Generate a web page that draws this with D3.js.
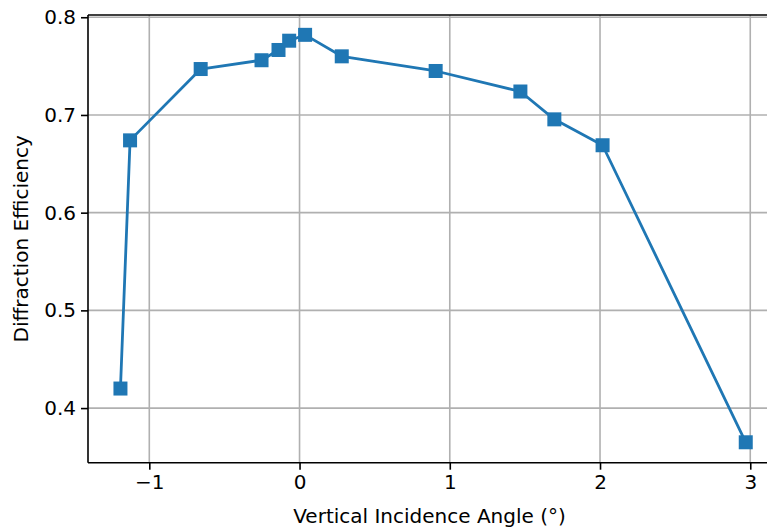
<!DOCTYPE html>
<html>
<head>
<meta charset="utf-8">
<script src="https://cdn.jsdelivr.net/npm/d3@7"></script>
<style>
  html, body { margin: 0; padding: 0; background: #fff; }
  svg { display: block; }
  text { font-family: "DejaVu Sans", sans-serif; }
</style>
</head>
<body>
<svg id="chart" width="767" height="527"></svg>
<script>
const angles = [-1.192, -1.128, -0.658, -0.253, -0.140, -0.069, 0.037, 0.281, 0.906, 1.470, 1.696, 2.017, 2.970];
const efficiency = [0.420, 0.674, 0.747, 0.756, 0.7665, 0.776, 0.782, 0.760, 0.745, 0.724, 0.6955, 0.669, 0.365];
const xTicks = [-1, 0, 1, 2, 3];
const yTicks = [0.4, 0.5, 0.6, 0.7, 0.8];
const xLabel = "Vertical Incidence Angle (°)";
const yLabel = "Diffraction Efficiency";

(function () {
const padL = 88, padT = 15, padB = 462.7, padR = 775.5;
const svg = d3.select("#chart");

const x = d3.scaleLinear().domain([-1.408, 3.168]).range([padL, padR]);
const y = d3.scaleLinear().domain([0.3441, 0.8023]).range([padB, padT]);

const fs = 20;
// grid
const grid = svg.append("g");
grid.selectAll("line.gx").data(xTicks).enter().append("line")
  .attr("x1", d => x(d)).attr("x2", d => x(d))
  .attr("y1", padT).attr("y2", padB)
  .attr("stroke", "#b0b0b0").attr("stroke-width", 1.6);
grid.selectAll("line.gy").data(yTicks).enter().append("line")
  .attr("x1", padL).attr("x2", padR)
  .attr("y1", d => y(d)).attr("y2", d => y(d))
  .attr("stroke", "#b0b0b0").attr("stroke-width", 1.6);

// line + markers
const lineGen = d3.line().x(d => x(d[0])).y(d => y(d[1]));
const pts = angles.map((a, i) => [a, efficiency[i]]);
svg.append("path").datum(pts)
  .attr("d", lineGen).attr("fill", "none")
  .attr("stroke", "#1f77b4").attr("stroke-width", 2.8)
  .attr("stroke-linejoin", "round");
const ms = 14;
svg.selectAll("rect.m").data(pts).enter().append("rect")
  .attr("x", d => x(d[0]) - ms / 2).attr("y", d => y(d[1]) - ms / 2)
  .attr("width", ms).attr("height", ms)
  .attr("fill", "#1f77b4");

// axes
const xAxis = d3.axisBottom(x).tickValues(xTicks).tickSize(7).tickPadding(5)
  .tickFormat(d => d < 0 ? "\u2212" + Math.abs(d) : String(d));
const yAxis = d3.axisLeft(y).tickValues(yTicks).tickSize(7).tickPadding(5)
  .tickFormat(d3.format(".1f"));

const gx = svg.append("g").attr("transform", `translate(0,${padB})`).call(xAxis);
const gy = svg.append("g").attr("transform", `translate(${padL},0)`).call(yAxis);
[gx, gy].forEach(g => {
  g.select(".domain").remove();
  g.selectAll(".tick line").attr("stroke", "#000").attr("stroke-width", 1.6);
  g.selectAll(".tick text").attr("fill", "#000").style("font-size", fs + "px")
   .style("font-family", "DejaVu Sans");
});

// spines
svg.append("line").attr("x1", padL).attr("x2", padL).attr("y1", padT).attr("y2", padB)
  .attr("stroke", "#000").attr("stroke-width", 1.6);
svg.append("line").attr("x1", padL).attr("x2", padR).attr("y1", padB).attr("y2", padB)
  .attr("stroke", "#000").attr("stroke-width", 1.6);
svg.append("line").attr("x1", padL).attr("x2", padR).attr("y1", padT).attr("y2", padT)
  .attr("stroke", "#000").attr("stroke-width", 1.6);

// labels
svg.append("text").attr("x", 429.5).attr("y", 522.5)
  .attr("text-anchor", "middle").style("font-size", fs + "px").text(xLabel);
svg.append("text").attr("transform", `translate(28,${(padT + padB) / 2}) rotate(-90)`)
  .attr("text-anchor", "middle").style("font-size", fs + "px").text(yLabel);
})();
</script>
</body>
</html>
